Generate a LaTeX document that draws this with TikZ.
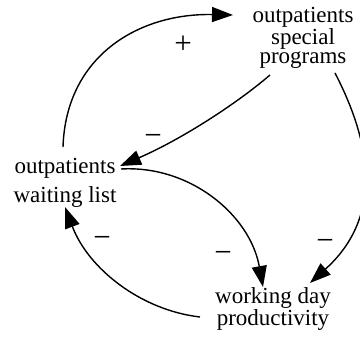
\documentclass[tikz,border=0pt]{standalone}
\usepackage{fontspec}
\setmainfont{Liberation Serif}
\usetikzlibrary{arrows.meta,calc}
\begin{document}
\begin{tikzpicture}[x=1pt,y=-1pt,
  var/.style={align=center,inner sep=0pt,anchor=base,font=\fontsize{23}{19}\selectfont},
  sign/.style={inner sep=0pt,font=\fontsize{31}{31}\selectfont},
  link/.style={line width=1.4pt,-{Triangle[length=21pt,width=15pt]}}]
\useasboundingbox (0,0) rectangle (360,338);
% variables (base anchor = baseline of the last line)
\node[var] (osp) at (303,63) {outpatients\\special\\programs};
\node[var,font=\fontsize{23}{29}\selectfont] (owl) at (65,202) {outpatients\\waiting list};
\node[var] (wdp) at (273,325) {working day\\productivity};
% link end points
\coordinate (a1s) at ($(owl.base)+(-2,-55)$);
\coordinate (a1e) at ($(osp.base)+(-70,-48)$);
\coordinate (a2s) at ($(osp.base)+(-33,12)$);
\coordinate (a2e) at ($(owl.base)+(55,-36)$);
\coordinate (a3s) at ($(osp.base)+(32,10)$);
\coordinate (a3e) at ($(wdp.base)+(37,-42)$);
\coordinate (a4s) at ($(owl.base)+(56,-33)$);
\coordinate (a4e) at ($(wdp.base)+(-10,-38)$);
\coordinate (a5s) at ($(wdp.base)+(-73,-8)$);
\coordinate (a5e) at ($(owl.base)+(0,5)$);
% causal links
\draw[link] (a1s) .. controls +(3,-92) and +(-93,-2) .. (a1e);
\draw[link] (a2s) .. controls +(-35,30) and +(60,-26) .. (a2e);
\draw[link] (a3s) .. controls +(40,77) and +(70,-63) .. (a3e);
\draw[link] (a4s) .. controls +(69,-4) and +(-13,-72) .. (a4e);
\draw[link] (a5s) .. controls +(-60,-7) and +(23,61) .. (a5e);
% polarities
\node[sign] (p1) at (183,45) {+};
\node[sign] (p2) at (153,140) {−};
\node[sign] (p3) at (102,242) {−};
\node[sign] (p4) at (223,257) {−};
\node[sign] (p5) at (325,245) {−};
\end{tikzpicture}
\end{document}
